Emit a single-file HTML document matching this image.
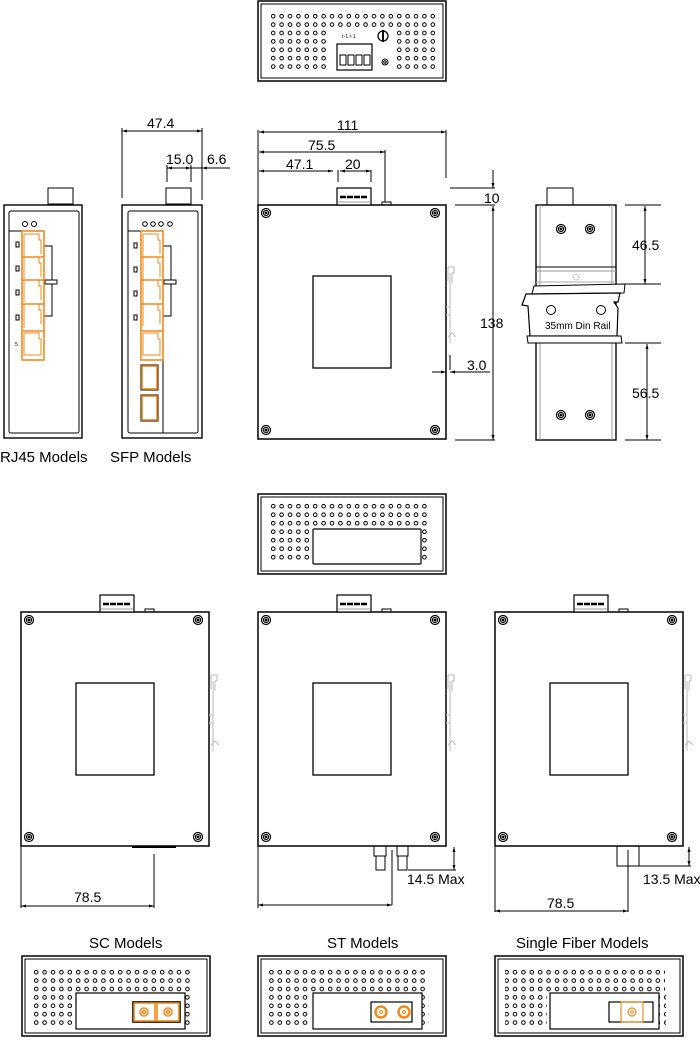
<!DOCTYPE html>
<html><head><meta charset="utf-8"><style>
html,body{margin:0;padding:0;background:#fff;}
svg{display:block;}
text{font-family:"Liberation Sans",sans-serif;fill:#000;}
</style></head><body>
<svg width="700" height="1040" viewBox="0 0 700 1040" xmlns="http://www.w3.org/2000/svg">
<defs>
<marker id="a" viewBox="0 0 10 10" refX="10" refY="5" markerWidth="7" markerHeight="5" orient="auto-start-reverse" markerUnits="userSpaceOnUse"><path d="M0 2 L10 5 L0 8 Z" fill="#000"/></marker>
<pattern id="dots" x="269" y="12" width="8.4" height="8.4" patternUnits="userSpaceOnUse">
<circle cx="4.2" cy="4.2" r="1.8" fill="#fff" stroke="#000" stroke-width="1"/></pattern>
<pattern id="dots2" x="269" y="502" width="8.4" height="8.5" patternUnits="userSpaceOnUse">
<circle cx="4.2" cy="4.2" r="1.8" fill="#fff" stroke="#000" stroke-width="1"/></pattern>
<pattern id="dots3" x="32" y="968" width="8.4" height="8.4" patternUnits="userSpaceOnUse">
<circle cx="4.2" cy="4.2" r="1.8" fill="#fff" stroke="#000" stroke-width="1"/></pattern>
<g id="screw"><circle r="4.5" fill="#fff" stroke="#000" stroke-width="1.2"/><circle r="2.6" fill="none" stroke="#000" stroke-width="1"/><circle r="1" fill="#000"/></g>
<g id="clip" fill="none" stroke="#bbb" stroke-width="1"><path d="M2 0 h6 v6 h-2 v10 M2 0 v14 M4 6 v70 M2 70 l4 -4 l4 4 M0 40 h4 v8 h-4"/></g>
<g id="side" stroke="#000" fill="none">
<rect x="0" y="0" width="188" height="234" stroke-width="1.5"/>
<rect x="55" y="71" width="78" height="92" stroke-width="1.3"/>
<use href="#screw" x="8" y="8"/><use href="#screw" x="177" y="8"/>
<use href="#screw" x="8" y="225"/><use href="#screw" x="177" y="225"/>
<rect x="79" y="-17" width="34" height="17" stroke-width="1.2" fill="#fff"/>
<line x1="82" y1="-8" x2="110" y2="-8" stroke-width="2.5" stroke-dasharray="6,1"/>
<line x1="80" y1="-3" x2="112" y2="-3" stroke="#999"/>
<rect x="124" y="-3" width="9" height="3" stroke-width="1"/>
</g>
<g id="topdot" stroke="#000" fill="none">
<rect x="0" y="0" width="188" height="80" stroke-width="1.5"/>
<rect x="3" y="3" width="182" height="74" stroke-width="1"/>
</g>
</defs>

<!-- TOP VIEW 1 -->
<use href="#topdot" x="258" y="1"/>
<rect x="269" y="12" width="168" height="17" fill="url(#dots)"/>
<rect x="269" y="29" width="59" height="42" fill="url(#dots)"/>
<rect x="395" y="29" width="42" height="42" fill="url(#dots)"/>
<rect x="337" y="44" width="35" height="26" fill="#fff" stroke="#000" stroke-width="1.2"/>
<g fill="none" stroke="#000" stroke-width="1"><rect x="340" y="55" width="6" height="10"/><rect x="348" y="55" width="6" height="10"/><rect x="356" y="55" width="6" height="10"/><rect x="364" y="55" width="6" height="10"/>
<circle cx="383" cy="36" r="5" stroke-width="1.3"/><line x1="383" y1="30" x2="383" y2="42" stroke-width="2"/>
<circle cx="385" cy="62" r="3"/><circle cx="385" cy="62" r="1.3"/></g>
<text x="342" y="38" font-size="5">r-1 r-1</text>

<!-- FRONT RJ45 -->
<g stroke="#000" fill="none">
<rect x="4" y="205" width="78" height="233" stroke-width="1.4"/>
<rect x="9" y="211" width="70" height="222" rx="2" stroke-width="1"/>
<rect x="48" y="188" width="25" height="16" stroke-width="1"/>
<circle cx="25" cy="224" r="2.5"/><circle cx="34" cy="224" r="2.5"/>
<path d="M9 231 h13"/>
<path d="M44 246 h8 v70 h-8"/>
<rect x="45" y="280" width="12" height="4" fill="#fff"/>
<rect x="16" y="242" width="3" height="5"/><rect x="16" y="266" width="3" height="5"/><rect x="16" y="290" width="3" height="5"/><rect x="16" y="315" width="3" height="5"/>
</g>
<g stroke="#f08a1c" fill="none" stroke-width="1.6">
<rect x="22" y="231" width="22" height="129"/>
<path d="M24 234 h15 v6 h2 v14 M24 234 v22 M24 257 h15 v6 h2 v14 M24 257 v22 M24 280 h15 v6 h2 v14 M24 280 v22 M24 304 h15 v6 h2 v14 M24 304 v24 M24 333 h15 v6 h2 v16 h-17 v-22" stroke-width="1"/>
<line x1="22" y1="257" x2="44" y2="257"/><line x1="22" y1="280" x2="44" y2="280"/><line x1="22" y1="304" x2="44" y2="304"/><line x1="22" y1="331" x2="44" y2="331"/>
</g>
<text x="15" y="346" font-size="5">5</text>

<!-- FRONT SFP -->
<g stroke="#000" fill="none">
<rect x="122" y="205" width="80" height="233" stroke-width="1.4"/>
<rect x="128" y="211" width="70" height="222" rx="2" stroke-width="1"/>
<rect x="166" y="188" width="25" height="16" stroke-width="1"/>
<circle cx="145" cy="224" r="2.3"/><circle cx="153" cy="224" r="2.3"/><circle cx="161" cy="224" r="2.3"/><circle cx="170" cy="224" r="2.3"/>
<path d="M128 231 h13"/>
<path d="M163 246 h8 v70 h-8"/>
<rect x="164" y="280" width="12" height="4" fill="#fff"/>
<rect x="134" y="243" width="3" height="5"/><rect x="134" y="267" width="3" height="5"/><rect x="134" y="291" width="3" height="5"/><rect x="134" y="315" width="3" height="5"/>
<path d="M163 360 v73"/>
</g>
<g stroke="#f08a1c" fill="none" stroke-width="1.6">
<rect x="141" y="231" width="22" height="129"/>
<path d="M143 234 h15 v6 h2 v14 M143 257 h15 v6 h2 v14 M143 280 h15 v6 h2 v14 M143 304 h15 v6 h2 v14 M143 333 h15 v6 h2 v16 h-17 v-22 M143 234 v92" stroke-width="1"/>
<line x1="141" y1="257" x2="163" y2="257"/><line x1="141" y1="280" x2="163" y2="280"/><line x1="141" y1="304" x2="163" y2="304"/><line x1="141" y1="331" x2="163" y2="331"/>
<rect x="141" y="365" width="17" height="25" stroke="#000" stroke-width="1"/>
<rect x="142" y="366" width="15" height="23"/>
<rect x="141" y="395" width="17" height="26" stroke="#000" stroke-width="1"/>
<rect x="142" y="396" width="15" height="24"/>
</g>

<!-- dims SFP -->
<g stroke="#000" stroke-width="1" fill="none">
<path d="M122 128 v70 M202 128 v72 M167 165 v17 M191 165 v17 M191 168 h12"/>
<line x1="122" y1="131" x2="202" y2="131" marker-start="url(#a)" marker-end="url(#a)"/>
<line x1="167" y1="168" x2="191" y2="168" marker-start="url(#a)" marker-end="url(#a)"/>
<line x1="230" y1="168" x2="202" y2="168" marker-end="url(#a)"/>
</g>
<text x="147" y="128" font-size="14">47.4</text>
<text x="166" y="164" font-size="14">15.0</text>
<text x="207" y="164" font-size="14">6.6</text>
<text x="0" y="462" font-size="15">RJ45 Models</text>
<text x="110" y="462" font-size="15">SFP Models</text>

<!-- SIDE MAIN -->
<use href="#side" x="258" y="205"/>
<use href="#clip" x="446" y="267"/>
<g stroke="#000" stroke-width="1" fill="none">
<path d="M258 130 v75 M446 130 v48 M385 150 v52 M338 170 v12 M371 170 v12"/>
<line x1="259" y1="132" x2="446" y2="132" marker-start="url(#a)" marker-end="url(#a)"/>
<line x1="259" y1="152" x2="385" y2="152" marker-start="url(#a)" marker-end="url(#a)"/>
<line x1="259" y1="171" x2="333" y2="171" marker-start="url(#a)" marker-end="url(#a)"/>
<line x1="340" y1="171" x2="371" y2="171" marker-start="url(#a)" marker-end="url(#a)"/>
<path d="M450 188 h45 M455 205 h40 M455 440 h40 M446 345 v75 M450 355 v15"/>
<line x1="493" y1="170" x2="493" y2="188" marker-end="url(#a)"/>
<line x1="493" y1="206" x2="493" y2="440" marker-start="url(#a)" marker-end="url(#a)"/>
<line x1="432" y1="372" x2="446" y2="372" marker-end="url(#a)"/>
<line x1="490" y1="372" x2="450" y2="372" marker-end="url(#a)"/>
</g>
<text x="337" y="130" font-size="14">111</text>
<text x="308" y="150" font-size="14">75.5</text>
<text x="286" y="169" font-size="14">47.1</text>
<text x="345" y="169" font-size="14">20</text>
<text x="484" y="203" font-size="14">10</text>
<text x="480" y="328" font-size="14">138</text>
<text x="467" y="370" font-size="14">3.0</text>

<!-- DIN RAIL VIEW -->
<g stroke="#000" fill="none">
<rect x="536" y="205" width="80" height="235" stroke-width="1.4"/>
<line x1="540" y1="205" x2="540" y2="440" stroke="#999"/>
<line x1="612" y1="205" x2="612" y2="440" stroke="#999"/>
<rect x="547" y="188" width="26" height="17" stroke-width="1"/>
<use href="#screw" x="561" y="229"/><use href="#screw" x="590" y="229"/>
<use href="#screw" x="561" y="415"/><use href="#screw" x="590" y="415"/>
<line x1="536" y1="267" x2="616" y2="267"/><line x1="536" y1="271" x2="616" y2="271" stroke="#999"/><line x1="536" y1="282" x2="616" y2="282" stroke="#aaa"/>
<circle cx="576" cy="277" r="3" stroke="#999" stroke-dasharray="1,1"/>
<path d="M534 286 L625 284 L624 293 L532 294 Z" fill="#fff"/>
<path d="M528 294 L620 293 L618 302 L614 302 L618 308 L617 336 L530 336 L528 306 L522 305 L526 294 Z" fill="#fff" stroke-width="1.2"/>
<path d="M527 336 L621 336 L622 343 L528 343 Z" fill="#fff"/>
<circle cx="551" cy="310" r="4.5"/><circle cx="601" cy="310" r="4.5"/>
<path d="M625 205 h36 M625 284 h36 M625 343 h36 M625 440 h36" stroke-width="1"/>
<line x1="645" y1="206" x2="645" y2="284" stroke-width="1" marker-start="url(#a)" marker-end="url(#a)"/>
<line x1="647" y1="344" x2="647" y2="440" stroke-width="1" marker-start="url(#a)" marker-end="url(#a)"/>
</g>
<text x="545" y="329" font-size="10">35mm Din Rail</text>
<text x="632" y="250" font-size="14">46.5</text>
<text x="632" y="398" font-size="14">56.5</text>

<!-- TOP VIEW 2 -->
<use href="#topdot" x="258" y="494"/>
<rect x="269" y="502" width="160" height="25" fill="url(#dots2)"/>
<rect x="269" y="527" width="42" height="34" fill="url(#dots2)"/>
<rect x="420" y="527" width="9" height="34" fill="url(#dots2)"/>
<rect x="313" y="529" width="108" height="35" rx="1" fill="#fff" stroke="#000" stroke-width="1.2"/>

<!-- SIDE SC -->
<use href="#side" x="21" y="612"/>
<use href="#clip" x="209" y="675"/>
<g stroke="#000" stroke-width="1" fill="none">
<path d="M132 847 h44" stroke-width="2"/>
<path d="M21 846 v62 M154 854 v54"/>
<line x1="21" y1="906" x2="154" y2="906" marker-start="url(#a)" marker-end="url(#a)"/>
</g>
<text x="74" y="902" font-size="14">78.5</text>

<!-- SIDE ST -->
<use href="#side" x="258" y="612"/>
<use href="#clip" x="446" y="675"/>
<g stroke="#000" stroke-width="1" fill="none">
<rect x="374" y="846" width="12" height="10"/><rect x="376" y="856" width="9" height="14"/>
<rect x="397" y="846" width="11" height="10"/><rect x="398" y="856" width="9" height="14"/>
<path d="M392 850 v55 M258 846 v62 M408 870 h48"/>
<line x1="258" y1="905" x2="392" y2="905" marker-start="url(#a)" marker-end="url(#a)"/>
<line x1="454" y1="847" x2="454" y2="870" marker-start="url(#a)" marker-end="url(#a)"/>
</g>
<text x="407" y="884" font-size="14">14.5 Max</text>

<!-- SIDE SINGLE -->
<use href="#side" x="495" y="612"/>
<use href="#clip" x="683" y="675"/>
<g stroke="#000" stroke-width="1" fill="none">
<rect x="617" y="846" width="22" height="20"/>
<path d="M628 850 v62 M495 846 v66 M639 866 h52"/>
<line x1="495" y1="911" x2="628" y2="911" marker-start="url(#a)" marker-end="url(#a)"/>
<line x1="689" y1="847" x2="689" y2="866" marker-start="url(#a)" marker-end="url(#a)"/>
</g>
<text x="643" y="884" font-size="14">13.5 Max</text>
<text x="547" y="908" font-size="14">78.5</text>

<!-- BOTTOM LABELS -->
<text x="89" y="948" font-size="15">SC Models</text>
<text x="327" y="948" font-size="15">ST Models</text>
<text x="516" y="948" font-size="15">Single Fiber Models</text>

<!-- BOTTOM VIEWS -->
<use href="#topdot" x="22" y="956"/>
<use href="#topdot" x="258" y="956"/>
<use href="#topdot" x="495" y="956"/>
<rect x="32" y="968" width="160" height="25" fill="url(#dots3)"/>
<rect x="32" y="993" width="42" height="34" fill="url(#dots3)"/>
<rect x="184" y="993" width="9" height="34" fill="url(#dots3)"/>
<rect x="268" y="968" width="160" height="25" fill="url(#dots3)"/>
<rect x="268" y="993" width="42" height="34" fill="url(#dots3)"/>
<rect x="420" y="993" width="9" height="34" fill="url(#dots3)"/>
<rect x="505" y="968" width="160" height="25" fill="url(#dots3)"/>
<rect x="505" y="993" width="42" height="34" fill="url(#dots3)"/>
<rect x="657" y="993" width="9" height="34" fill="url(#dots3)"/>
<g stroke="#000" fill="#fff" stroke-width="1.2">
<rect x="76" y="993" width="109" height="36"/>
<rect x="313" y="993" width="109" height="36"/>
<rect x="550" y="993" width="109" height="36"/>
</g>
<g stroke="#f08a1c" fill="none" stroke-width="1.6">
<rect x="133" y="1002" width="47" height="20" stroke="#000"/>
<rect x="134" y="1003" width="21" height="18"/><rect x="157" y="1003" width="22" height="18"/>
<circle cx="144" cy="1012" r="4"/><circle cx="144" cy="1012" r="1.5"/>
<circle cx="168" cy="1012" r="4"/><circle cx="168" cy="1012" r="1.5"/>
</g>
<g fill="none">
<rect x="371" y="1002" width="41" height="20" stroke="#000" stroke-width="1.2"/>
<circle cx="381" cy="1012" r="5.5" stroke="#f08a1c" stroke-width="2.5"/><circle cx="381" cy="1012" r="1.5" stroke="#f08a1c"/>
<circle cx="404" cy="1012" r="5.5" stroke="#f08a1c" stroke-width="2.5"/><circle cx="404" cy="1012" r="1.5" stroke="#f08a1c"/>
</g>
<g fill="none">
<rect x="609" y="1002" width="44" height="20" stroke="#000" stroke-width="1.2"/>
<rect x="621" y="1002" width="22" height="20" stroke="#f08a1c" stroke-width="1.2"/>
<circle cx="632" cy="1012" r="4" stroke="#f08a1c" stroke-width="1.2"/><circle cx="632" cy="1012" r="1.3" stroke="#f08a1c"/>
</g>
</svg>
</body></html>
